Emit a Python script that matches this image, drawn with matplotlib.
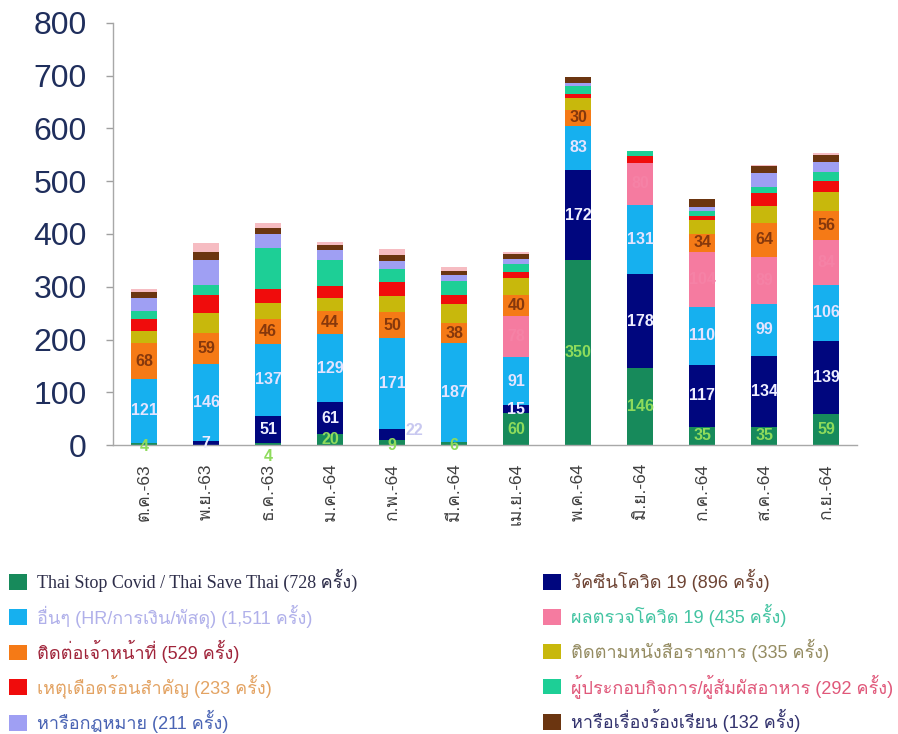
import numpy as np
import matplotlib
matplotlib.use("Agg")
import matplotlib.pyplot as plt
from matplotlib import font_manager as fm
from matplotlib.ft2font import FT2Font
from matplotlib.patches import Patch

# ---------------------------------------------------------------- data
months = ['ต.ค.-63', 'พ.ย.-63', 'ธ.ค.-63', 'ม.ค.-64', 'ก.พ.-64', 'มี.ค.-64',
          'เม.ย.-64', 'พ.ค.-64', 'มิ.ย.-64', 'ก.ค.-64', 'ส.ค.-64', 'ก.ย.-64']

thai_stop_covid = [4, 0, 4, 20, 9, 6, 60, 350, 146, 35, 35, 59]
vaccine         = [0, 7, 51, 61, 22, 0, 15, 172, 178, 117, 134, 139]
others          = [121, 146, 137, 129, 171, 187, 91, 83, 131, 110, 99, 106]
test_results    = [0, 0, 0, 0, 0, 0, 78, 0, 80, 104, 89, 84]
contact_staff   = [68, 59, 46, 44, 50, 38, 40, 30, 0, 34, 64, 56]
official_docs   = [24, 39, 31, 25, 30, 36, 32, 23, 0, 27, 32, 36]
urgent          = [21, 34, 27, 23, 27, 17, 12, 8, 12, 8, 24, 20]
business        = [16, 18, 78, 49, 25, 26, 16, 14, 11, 8, 13, 18]
legal           = [24, 47, 26, 18, 15, 13, 8, 6, 0, 9, 26, 19]
complaints      = [13, 15, 11, 11, 12, 6, 11, 12, 0, 15, 13, 13]
other_topics    = [5, 18, 10, 5, 11, 8, 2, 0, 0, 0, 2, 3]

series_names = ['Thai Stop Covid / Thai Save Thai', 'วัคซีนโควิด 19',
                'อื่นๆ (HR/การเงิน/พัสดุ)', 'ผลตรวจโควิด 19',
                'ติดต่อเจ้าหน้าที่', 'ติดตามหนังสือราชการ',
                'เหตุเดือดร้อนสำคัญ', 'ผู้ประกอบกิจการ/ผู้สัมผัสอาหาร',
                'หารือกฎหมาย', 'หารือเรื่องร้องเรียน']
series_values = [thai_stop_covid, vaccine, others, test_results, contact_staff,
                 official_docs, urgent, business, legal, complaints]

# ---------------------------------------------------------------- style
colors = ['#178a5b', '#00067e', '#16b0ef', '#f57ba0', '#f57a16',
          '#c8b80c', '#f00c0c', '#1dcf96', '#9f9ff3', '#6b3510']
cap_color = '#f6bcc2'
label_colors = {0: '#8edb5c', 1: '#eeeeff', 2: '#e4e4ff', 3: '#f582a6', 4: '#86380c'}
# legend text colour per series
legend_text_colors = ['#2e2e4a', '#6e4434', '#b0b0ea', '#43c4a2', '#a0243a',
                      '#958c62', '#e3a363', '#e0587a', '#4a64b4', '#33336e']


def thai_capable_families():
    fams = []
    for f in fm.fontManager.ttflist:
        try:
            if 0x0E01 in FT2Font(f.fname).get_charmap() and f.name not in fams:
                fams.append(f.name)
        except Exception:
            pass
    return fams


thai_fams = thai_capable_families()
sans = ['Liberation Sans', 'DejaVu Sans'] + thai_fams
serif = ['Liberation Serif', 'DejaVu Serif'] + thai_fams
plt.rcParams['font.family'] = sans

fig = plt.figure(figsize=(8.98, 7.34), dpi=100)
ax = fig.add_axes([0.1258, 0.3937, 0.829, 0.575])

x = np.arange(len(months))
width = 0.42
bottom = np.zeros(len(months))
segments = []
for vals, col in zip(series_values, colors):
    v = np.array(vals, dtype=float)
    ax.bar(x, v, width, bottom=bottom, color=col, linewidth=0)
    segments.append((bottom.copy(), v))
    bottom += v
ax.bar(x, other_topics, width, bottom=bottom, color=cap_color, linewidth=0)

# value labels for the first five series
nudges = {(0, 0): (0.0, -4.0), (0, 2): (0.0, -24.0), (0, 4): (0.0, -6.0),
          (0, 5): (0.0, -4.0), (1, 4): (0.36, 8.0)}
for si in range(5):
    base, v = segments[si]
    for j in range(len(months)):
        if v[j] <= 0:
            continue
        dx, dy = nudges.get((si, j), (0.0, 0.0))
        ax.text(x[j] + dx, base[j] + v[j] / 2 + dy, f'{int(v[j])}',
                ha='center', va='center', fontsize=11.5, fontweight='bold',
                color=label_colors[si] if (si, j) != (1, 4) else '#c8c8f0')

ax.set_xlim(-0.5, len(months) - 0.5)
ax.set_ylim(0, 800)
ax.set_yticks(range(0, 801, 100))
ax.tick_params(axis='y', labelsize=23, labelcolor='#1f2e5c', color='#a0a0a0',
               length=5, width=1, pad=14)
ax.set_xticks(x)
ax.set_xticklabels(months, rotation=90, fontsize=12.5, color='#404040')
ax.tick_params(axis='x', length=0, pad=13)
for s in ['top', 'right']:
    ax.spines[s].set_visible(False)
for s in ['left', 'bottom']:
    ax.spines[s].set_color('#a8a8a8')
    ax.spines[s].set_linewidth(1)

# legend in two columns
def legend_label(i):
    return f'{series_names[i]} ({sum(series_values[i]):,} ครั้ง)'

left_idx = [0, 2, 4, 6, 8]
right_idx = [1, 3, 5, 7, 9]
for idxs, xpos in ((left_idx, -0.008), (right_idx, 0.587)):
    handles = [Patch(facecolor=colors[i], edgecolor='none') for i in idxs]
    leg = fig.legend(handles, [legend_label(i) for i in idxs],
                     loc='upper left', bbox_to_anchor=(xpos, 0.2466),
                     frameon=False, fontsize=13, handlelength=1.0,
                     handleheight=0.95, handletextpad=0.55, labelspacing=0.65)
    for t, i in zip(leg.get_texts(), idxs):
        t.set_color(legend_text_colors[i])
        if i == 0:
            t.set_family(serif)

fig.savefig('out.png', dpi=100)
